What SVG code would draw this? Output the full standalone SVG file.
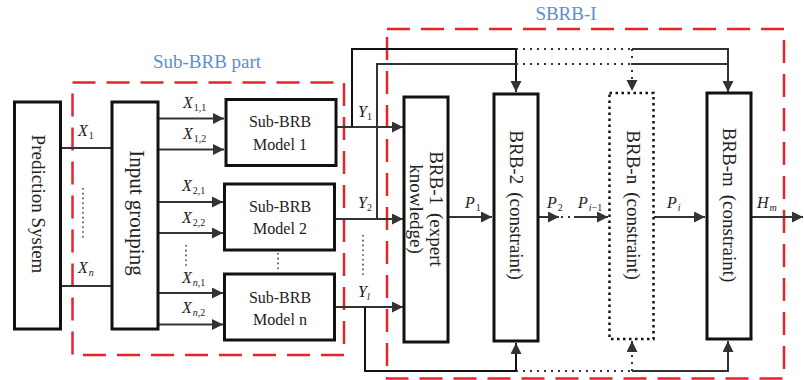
<svg xmlns="http://www.w3.org/2000/svg" width="804" height="380" viewBox="0 0 804 380">
<style>
  text { font-family: "Liberation Serif", "Times New Roman", serif; fill: #222; }
  .box { fill: #fff; stroke: #111; stroke-width: 3; }
  .dbox { fill: none; stroke: #111; stroke-width: 2.5; stroke-dasharray: 2.5 3.5; }
  .group { fill: none; stroke: #e8242b; stroke-width: 2.5; stroke-dasharray: 23 11; }
  .gl { font-size: 19px; fill: #5b8fd4; text-anchor: middle; }
  .ln { fill: none; stroke: #333; stroke-width: 2; }
  .dot { fill: none; stroke: #333; stroke-width: 2; stroke-dasharray: 2 5; }
  .vd { fill: none; stroke: #444; stroke-width: 1.6; stroke-dasharray: 1.6 3.2; }
  .lab { font-size: 16px; font-style: italic; }
  .sub { font-size: 10px; font-style: normal; }
  .subi { font-size: 10px; font-style: italic; }
  .nt { font-size: 16px; text-anchor: middle; }
  .vt { font-size: 19px; text-anchor: middle; }
</style>
<defs>
  <marker id="ah" markerUnits="userSpaceOnUse" markerWidth="12" markerHeight="12" refX="11" refY="5.5" orient="auto">
    <path d="M0,0 L11,5.5 L0,11 Z" fill="#333"/>
  </marker>
</defs>

<g id="sub-brb-part">
  <rect class="group" x="72.5" y="82.5" width="271.5" height="272.5"/>
  <text class="gl" x="207" y="68">Sub-BRB part</text>
</g>
<g id="sbrb-i">
  <rect class="group" x="387" y="29" width="397" height="349.5"/>
  <text class="gl" x="566" y="20">SBRB-I</text>
</g>

<g id="connectors">
  <path class="ln" d="M61,148 H112"/>
  <path class="ln" d="M61,286 H112"/>
  <path class="ln" d="M158,118.5 H224" marker-end="url(#ah)"/>
  <path class="ln" d="M158,149.5 H224" marker-end="url(#ah)"/>
  <path class="ln" d="M158,202 H223" marker-end="url(#ah)"/>
  <path class="ln" d="M158,233 H223" marker-end="url(#ah)"/>
  <path class="ln" d="M158,293 H223" marker-end="url(#ah)"/>
  <path class="ln" d="M158,324.5 H223" marker-end="url(#ah)"/>
  <path class="ln" d="M336,127 H403" marker-end="url(#ah)"/>
  <path class="ln" d="M334,219 H403" marker-end="url(#ah)"/>
  <path class="ln" d="M335,307 H403" marker-end="url(#ah)"/>
  <path class="ln" style="stroke:#111" d="M352,127 V49 H516 V92" marker-end="url(#ah)"/>
  <path class="ln" d="M377,219 V64 H516"/>
  <path class="dot" d="M516,49 H632"/>
  <path class="dot" d="M516,64 H632"/>
  <path class="ln" d="M632,49 H728 V92" marker-end="url(#ah)"/>
  <path class="ln" d="M632,64 H728"/>
  <path class="dot" d="M632,49 V91" marker-end="url(#ah)"/>
  <path class="ln" style="stroke:#111" d="M365,307 V371 H516 V343" marker-end="url(#ah)"/>
  <path class="dot" d="M516,371 H632"/>
  <path class="dot" d="M632,371 V341" marker-end="url(#ah)"/>
  <path class="ln" d="M632,371 H728 V341" marker-end="url(#ah)"/>
  <path class="ln" d="M448,217 H492" marker-end="url(#ah)"/>
  <path class="ln" d="M538,217 H559" marker-end="url(#ah)"/>
  <path class="dot" d="M561,217 H574"/>
  <path class="ln" d="M574,217 H608" marker-end="url(#ah)"/>
  <path class="ln" d="M654,217 H705" marker-end="url(#ah)"/>
  <path class="ln" d="M751,217 H803" marker-end="url(#ah)"/>
  <path class="vd" d="M83,188 V238"/>
  <path class="vd" d="M186,245 V267"/>
  <path class="vd" d="M278,253 V271"/>
  <path class="vd" d="M363,235 V278"/>
</g>

<g id="edge-labels">
  <text class="lab" x="78" y="136">X<tspan class="sub" dx="1" dy="3">1</tspan></text>
  <text class="lab" x="78" y="273">X<tspan class="subi" dx="1" dy="3">n</tspan></text>
  <text class="lab" x="183" y="108">X<tspan class="sub" dx="1" dy="3">1,1</tspan></text>
  <text class="lab" x="183" y="139">X<tspan class="sub" dx="1" dy="3">1,2</tspan></text>
  <text class="lab" x="182" y="191">X<tspan class="sub" dx="1" dy="3">2,1</tspan></text>
  <text class="lab" x="182" y="223">X<tspan class="sub" dx="1" dy="3">2,2</tspan></text>
  <text class="lab" x="182" y="283">X<tspan class="subi" dx="1" dy="3">n</tspan><tspan class="sub">,1</tspan></text>
  <text class="lab" x="182" y="313">X<tspan class="subi" dx="1" dy="3">n</tspan><tspan class="sub">,2</tspan></text>
  <text class="lab" x="358" y="117">Y<tspan class="sub" dx="0" dy="3">1</tspan></text>
  <text class="lab" x="358" y="208">Y<tspan class="sub" dx="0" dy="3">2</tspan></text>
  <text class="lab" x="358" y="297">Y<tspan class="subi" dx="0" dy="3">l</tspan></text>
  <text class="lab" x="465" y="208">P<tspan class="sub" dx="1" dy="3">1</tspan></text>
  <text class="lab" x="547" y="208">P<tspan class="sub" dx="1" dy="3">2</tspan></text>
  <text class="lab" x="578" y="208">P<tspan class="subi" dx="1" dy="3">i</tspan><tspan class="sub">−1</tspan></text>
  <text class="lab" x="667" y="208">P<tspan class="subi" dx="1" dy="3">i</tspan></text>
  <text class="lab" x="757" y="208">H<tspan class="subi" dx="1" dy="3">m</tspan></text>
</g>

<g id="prediction-system">
  <rect class="box" x="14.5" y="102" width="46" height="227"/>
  <text class="vt" transform="translate(39,204) rotate(90)" dy="0.35em">Prediction System</text>
</g>
<g id="input-grouping">
  <rect class="box" x="112" y="102" width="46" height="227"/>
  <text class="vt" style="font-size:21px" transform="translate(137,213) rotate(90)" dy="0.35em">Input grouping</text>
</g>
<g id="sub-brb-model-1">
  <rect class="box" x="226" y="99.5" width="110" height="66"/>
  <text class="nt" x="280" y="127">Sub-BRB</text>
  <text class="nt" x="280" y="150">Model 1</text>
</g>
<g id="sub-brb-model-2">
  <rect class="box" x="224.5" y="184" width="110" height="66"/>
  <text class="nt" x="280" y="212">Sub-BRB</text>
  <text class="nt" x="280" y="234">Model 2</text>
</g>
<g id="sub-brb-model-n">
  <rect class="box" x="224.5" y="274" width="110" height="66"/>
  <text class="nt" x="280" y="303">Sub-BRB</text>
  <text class="nt" x="280" y="325">Model n</text>
</g>
<g id="brb-1">
  <rect class="box" x="404" y="97" width="44" height="245"/>
  <g transform="translate(426,209) rotate(90)">
    <text class="vt" x="0" y="-4">BRB-1<tspan dx="8">(expert</tspan></text>
    <text class="vt" x="0" y="16">knowledge)</text>
  </g>
</g>
<g id="brb-2">
  <rect class="box" x="494" y="94" width="44" height="247"/>
  <text class="vt" transform="translate(517,205) rotate(90)" dy="0.35em">BRB-2<tspan dx="8">(constraint)</tspan></text>
</g>
<g id="brb-n">
  <rect class="dbox" x="609.5" y="93" width="44" height="246"/>
  <text class="vt" transform="translate(634,205) rotate(90)" dy="0.35em">BRB-n<tspan dx="8">(constraint)</tspan></text>
</g>
<g id="brb-m">
  <rect class="box" x="707" y="93" width="44" height="246"/>
  <text class="vt" transform="translate(730,205) rotate(90)" dy="0.35em">BRB-m<tspan dx="8">(constraint)</tspan></text>
</g>
</svg>
